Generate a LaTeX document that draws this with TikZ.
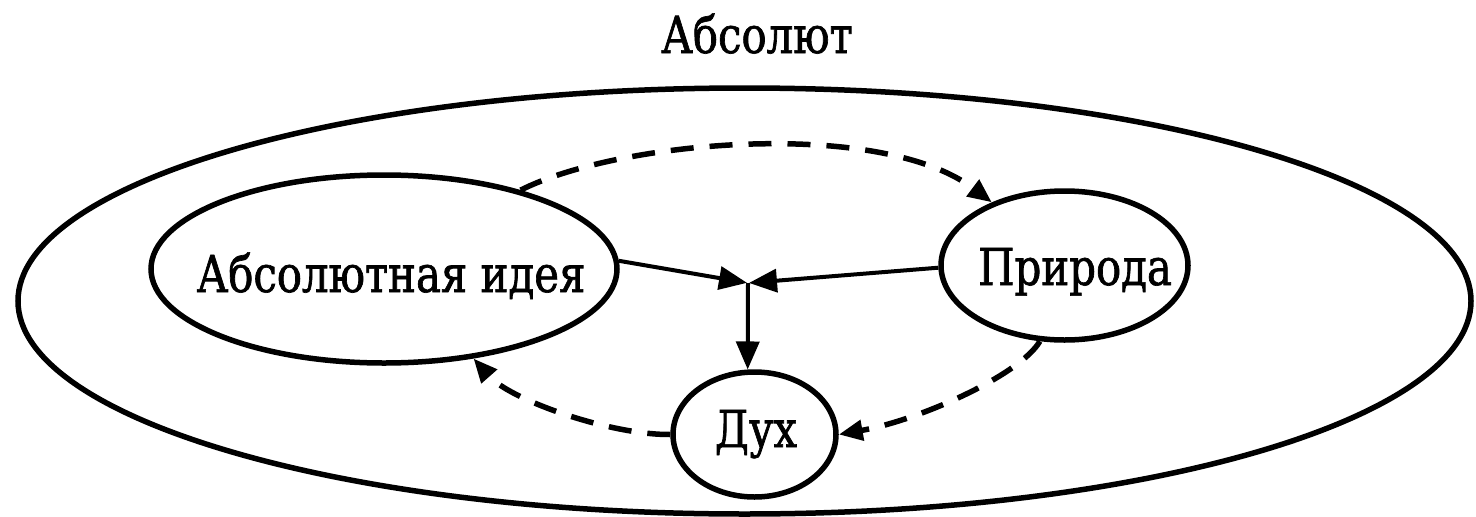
\documentclass[tikz,border=0pt]{standalone}
\usepackage{fontspec}
\setmainfont{DejaVu Serif}[FakeStretch=0.82,FakeBold=1.3]
\usetikzlibrary{shapes.geometric,arrows.meta}
\begin{document}
\begin{tikzpicture}[x=1pt,y=-1pt,
  lbl/.style={font=\fontsize{51}{60}\selectfont, inner sep=0pt, anchor=base},
  oval/.style={draw, ellipse, line width=5.5pt, inner sep=0pt},
  sarrow/.style={line width=4pt, -{Triangle[length=28pt,width=23pt]}},
  darrow/.style={line width=5.5pt, dash pattern=on 23pt off 16pt, -{Triangle[length=24pt,width=20pt]}}
]
\useasboundingbox (0,0) rectangle (1476,517);
% outer ellipse (Absolute)
\node[oval, minimum width=1453pt, minimum height=426pt] (outer) at (744.5,301) {};
\node[lbl] (title) at (757,53) {Абсолют};
% inner ellipses
\node[oval, minimum width=466pt, minimum height=188pt] (idea) at (384,269) {};
\node[oval, minimum width=247pt, minimum height=149pt] (nature) at (1064.5,265.5) {};
\node[oval, minimum width=163pt, minimum height=125pt] (spirit) at (754.5,434.5) {};
\node[lbl] (tidea) at (391,292) {Абсолютная идея};
\node[lbl] (tnature) at (1075,285) {Природа};
\node[lbl] (tspirit) at (756,447) {Дух};
% junction
\coordinate (j) at (748,283);
\draw[sarrow, shorten >=1pt] (idea.2) -- (j);
\draw[sarrow, shorten >=1pt] (nature.181) -- (j);
\draw[sarrow] (j) -- (spirit.96);
% dashed cycle
\draw[darrow] (idea.30) .. controls (620,140) and (880,118) .. (nature.139);
\draw[darrow] (nature.252) .. controls (1020,375) and (920,420) .. (spirit.0);
\draw[darrow] (spirit.180) .. controls (610,435) and (510,400) .. (idea.315);
\end{tikzpicture}
\end{document}
